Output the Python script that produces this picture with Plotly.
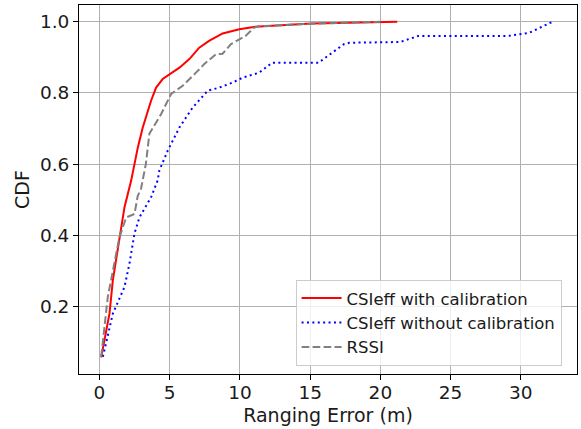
import plotly.graph_objects as go

# ---- data ----
cal_err = [0.12, 0.71, 0.95, 1.42, 1.78, 2.25, 2.73, 3.08, 3.43, 3.67, 4.03, 4.5,
           5.69, 6.4, 7.1, 7.8, 8.77, 9.95, 11.1, 15.1, 21.2]
cal_cdf = [0.057, 0.18, 0.274, 0.395, 0.479, 0.553, 0.647, 0.703, 0.75, 0.778, 0.815, 0.839,
           0.871, 0.895, 0.927, 0.946, 0.967, 0.979, 0.986, 0.995, 1.0]

nocal_err = [0.24, 0.95, 1.78, 2.13, 2.49, 2.84, 3.67, 4.14, 4.26, 4.86, 5.69, 6.63,
             7.7, 8.53, 9.47, 10.2, 11.37, 11.85, 12.3, 15.6, 16.3, 16.8, 17.4, 17.8,
             21.4, 22.7, 29.1, 30.6, 32.1, 32.4]
nocal_cdf = [0.059, 0.18, 0.255, 0.32, 0.405, 0.45, 0.507, 0.554, 0.582, 0.638, 0.703, 0.759,
             0.806, 0.815, 0.829, 0.843, 0.857, 0.871, 0.885, 0.885, 0.905, 0.92, 0.937, 0.941,
             0.943, 0.96, 0.96, 0.969, 0.997, 1.0]

rssi_err = [0.12, 0.59, 1.42, 1.9, 2.49, 2.72, 2.95, 3.3, 3.55, 4.26, 4.38, 5.1, 5.92,
            6.87, 7.46, 8.29, 8.76, 9.36, 10.4, 11.0, 11.3, 15.4, 20.0]
rssi_cdf = [0.059, 0.227, 0.395, 0.45, 0.46, 0.51, 0.53, 0.6, 0.685, 0.731, 0.74, 0.797, 0.82,
            0.857, 0.881, 0.909, 0.91, 0.937, 0.96, 0.983, 0.987, 0.995, 1.0]

series_names = ["CSIeff with calibration", "CSIeff without calibration", "RSSI"]
x_ticks = [0, 5, 10, 15, 20, 25, 30]
y_ticks = [0.2, 0.4, 0.6, 0.8, 1.0]
x_label = "Ranging Error (m)"
y_label = "CDF"

fig = go.Figure()
fig.add_trace(go.Scatter(x=cal_err, y=cal_cdf, mode="lines", name=series_names[0],
                         line=dict(color="#ff0000", width=2)))
fig.add_trace(go.Scatter(x=nocal_err, y=nocal_cdf, mode="lines", name=series_names[1],
                         line=dict(color="#0000ff", width=2, dash="2px,3.4px")))
fig.add_trace(go.Scatter(x=rssi_err, y=rssi_cdf, mode="lines", name=series_names[2],
                         line=dict(color="#808080", width=2, dash="7.7px,3.3px")))

font_family = "DejaVu Sans"
axis_common = dict(
    showline=True, linecolor="black", linewidth=1, mirror=True,
    ticks="outside", ticklen=5, tickwidth=1, tickcolor="black",
    showgrid=True, gridcolor="#b0b0b0", gridwidth=1,
    zeroline=False,
    tickfont=dict(family=font_family, size=18.5, color="#1a1a1a"),
)

fig.update_xaxes(range=[-1.46, 34.0], tickvals=x_ticks, ticktext=[str(v) for v in x_ticks],
                 ticklabelstandoff=-3,
                 title=dict(text=x_label, font=dict(family=font_family, size=19, color="#1a1a1a"),
                            standoff=6),
                 **axis_common)
fig.update_yaxes(range=[0.0104, 1.047], tickvals=y_ticks, ticktext=[f"{v:.1f}" for v in y_ticks],
                 title=dict(text=y_label, font=dict(family=font_family, size=19, color="#1a1a1a"),
                            standoff=5),
                 **axis_common)

fig.update_layout(
    width=581, height=429,
    margin=dict(l=79.4, r=4.3, t=4.7, b=54.5, autoexpand=False),
    plot_bgcolor="white", paper_bgcolor="white",
    font=dict(family=font_family, color="#1a1a1a"),
    legend=dict(x=0.969, y=0.022, xanchor="right", yanchor="bottom",
                bgcolor="rgba(255,255,255,0.8)", bordercolor="#cccccc", borderwidth=1,
                font=dict(family=font_family, size=16.5, color="#1a1a1a"),
                itemwidth=40, tracegroupgap=0),
    showlegend=True,
)

fig.write_html("out.html", config={"displayModeBar": False},
               post_script="document.body.style.margin='0';document.body.style.padding='0';")
